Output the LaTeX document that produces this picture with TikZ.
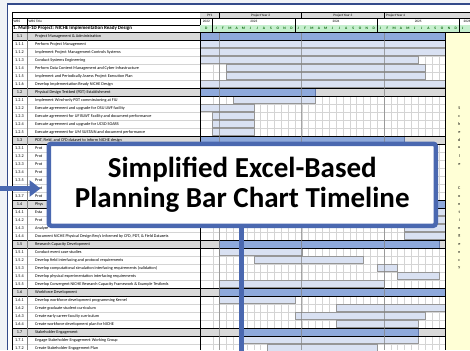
\documentclass[tikz,border=0pt]{standalone}
\usepackage{fontspec}
\setmainfont{Carlito}
\usetikzlibrary{arrows.meta}

\definecolor{pagegrey}{RGB}{240,242,246}
\definecolor{frameblue}{RGB}{52,74,138}
\definecolor{boxblue}{RGB}{74,104,176}
\definecolor{sumgrey}{RGB}{217,217,217}
\definecolor{sumblue}{RGB}{142,169,219}
\definecolor{sumedge}{RGB}{96,118,168}
\definecolor{taskblue}{RGB}{217,225,242}
\definecolor{taskedge}{RGB}{150,150,150}
\definecolor{gridgrey}{RGB}{212,212,212}
\definecolor{yeargrey}{RGB}{130,130,130}
\definecolor{goodfill}{RGB}{198,239,206}
\definecolor{goodtext}{RGB}{0,97,0}
\definecolor{contyellow}{RGB}{255,255,214}

\begin{document}
\begin{tikzpicture}[x=1pt,y=-1pt,
  declare function={mx(\k)=ifthenelse(\k<0,200,212.7+6.85*\k);},
  tiny/.style={font=\fontsize{4.2}{4.6}\selectfont, inner sep=0pt},
  titletxt/.style={tiny, anchor=west},
  hdrtxt/.style={font=\fontsize{3.4}{4}\selectfont, inner sep=0pt},
  monthtxt/.style={font=\bfseries\fontsize{3.6}{4}\selectfont, text=goodtext, inner sep=0pt},
  conttxt/.style={font=\fontsize{4.2}{4.6}\selectfont, inner sep=0pt},
  gridline/.style={draw=gridgrey, line width=0.35pt},
  taskbar/.style={fill=taskblue, draw=taskedge, line width=0.45pt},
  sumbar/.style={fill=sumblue, draw=sumedge, line width=0.45pt},
  sumline/.style={draw=black, line width=0.6pt},
  rule/.style={draw=black, line width=0.55pt},
  callout/.style={draw=boxblue, line width=4.5pt},
]
\useasboundingbox (0,0) rectangle (470,350);
\clip (0,0) rectangle (470,350);

% page and sheet background
\fill[pagegrey] (0,0) rectangle (470,350);
\fill[white] (7.5,4.2) rectangle (470,350);

% schedule contingency column
\fill[contyellow] ({mx(34)},32) rectangle (470,350);

% cell grid
\foreach \k in {0,...,33} \draw[gridline] ({mx(\k)},32) -- ({mx(\k)},350);
\foreach \i in {1,...,39} \draw[gridline] (12,{32+8*\i}) -- ({mx(34)},{32+8*\i});

% summary rows
\foreach \i in {0,7,13,21,26,32,37}
  \fill[sumgrey] (12,{32+8*\i}) rectangle ({mx(34)},{40+8*\i});

% task bars: row / first month / end month
\foreach \i/\a/\b in {1/-1/34, 2/-1/34, 3/-1/30, 4/2/31, 5/2/31, 6/-1/34,
    8/3/15, 9/-1/6, 10/0/6, 11/0/6, 12/0/6,
    22/28/34, 23/28/34, 24/28/34, 25/28/34,
    27/1/13, 28/6/22, 29/24/27, 30/27/33, 31/1/25,
    33/1/12, 34/18/34, 35/12/31, 36/18/30,
    38/4/30, 39/8/24}
  \draw[taskbar] ({mx(\a)},{32.7+8*\i}) rectangle ({mx(\b)},{39.3+8*\i});

% summary bars
\foreach \i/\a/\b in {0/-1/34, 7/-1/15, 13/-1/28, 21/-1/34, 26/1/33, 32/1/34, 37/4/30}
  \draw[sumbar] ({mx(\a)},{32+8*\i}) rectangle ({mx(\b)},{40+8*\i});

% summary row borders
\foreach \i in {0,7,13,21,26,32,37} {
  \draw[sumline] (12,{32+8*\i}) -- ({mx(34)},{32+8*\i});
  \draw[sumline] (12,{40+8*\i}) -- ({mx(34)},{40+8*\i});
}

% project year boundaries through the body
\foreach \k in {1,13,25}
  \draw[draw=yeargrey, line width=0.6pt, opacity=0.7] ({mx(\k)},32) -- ({mx(\k)},350);

% column rules
\draw[rule] (12,12) -- (12,350);
\draw[draw=yeargrey, line width=0.55pt] (27,18.5) -- (27,350);
\draw[rule] (200,12) -- (200,350);
\draw[rule] ({mx(34)},32) -- ({mx(34)},350);

% ---------- header ----------
% project years
\fill[sumgrey] (200,12) rectangle (470,18.5);
\draw[rule] (12,12) -- (470,12);
\draw[rule] (12,18.5) -- (470,18.5);
\draw[rule] (12,25) -- (470,25);
\draw[rule] (12,32) -- (470,32);
\foreach \k in {1,13,25} \draw[rule] ({mx(\k)},12) -- ({mx(\k)},18.5);
\node[hdrtxt] (py1) at ({(200+mx(1))/2},15.3) {PY1};
\node[hdrtxt] (py2) at ({(mx(1)+mx(13))/2},15.3) {Project Year 2};
\node[hdrtxt] (py3) at ({(mx(13)+mx(25))/2},15.3) {Project Year 3};
\node[hdrtxt, anchor=west] (py4) at ({mx(25)+2},15.3) {Project Year 4};

% calendar years
\foreach \k in {0,12,24,36} \draw[rule] ({mx(\k)},18.5) -- ({mx(\k)},32);
\node[hdrtxt] (y22) at ({(200+mx(0))/2},21.8) {2022};
\node[hdrtxt] (y23) at ({(mx(0)+mx(12))/2},21.8) {2023};
\node[hdrtxt] (y24) at ({(mx(12)+mx(24))/2},21.8) {2024};
\node[hdrtxt] (y25) at ({(mx(24)+mx(36))/2},21.8) {2025};
\node[hdrtxt] (y26) at ({(mx(36)+475)/2},21.8) {2026};

% months
\fill[goodfill] (200.3,25.3) rectangle (470,31.7);
\foreach \k in {0,12,24,36} \draw[rule] ({mx(\k)},25) -- ({mx(\k)},32);
\node[monthtxt] (m0d) at ({(200+mx(0))/2},28.6) {D};
\foreach \m [count=\k from 0] in {J,F,M,A,M,J,J,A,S,O,N,D,J,F,M,A,M,J,J,A,S,O,N,D,J,F,M,A,M,J,J,A,S,O,N,D,J}
  \node[monthtxt] (m\k) at ({mx(\k)+3.425},28.6) {\m};

% left header
\draw[rule] (27,18.5) -- (27,25);
\node[hdrtxt, anchor=west] (hwbs) at (13.5,21.8) {WBS};
\node[hdrtxt, anchor=west] (htitle) at (28.5,21.8) {WBS Title};
\node[font=\bfseries\fontsize{5}{5.5}\selectfont, inner sep=0pt, anchor=west] (proj) at (12.8,28.6)
  {1. Multi-1D Project: NICHE Implementation Ready Design};

% ---------- rows ----------
\foreach \i/\w/\t in {
   0/1.1/{Project Management \& Administration},
   1/1.1.1/{Perform Project Management},
   2/1.1.2/{Implement Project Management Controls Systems},
   3/1.1.3/{Conduct Systems Engineering},
   4/1.1.4/{Perform Data Content Management and Cyber Infrastructure},
   5/1.1.5/{Implement and Periodically Assess Project Execution Plan},
   6/1.1.6/{Develop Implementation Ready NICHE Design},
   7/1.2/{Physical Design Testbed (PDT) Establishment},
   8/1.2.1/{Implement Wind-only PDT commissioning at FIU},
   9/1.2.2/{Execute agreement and upgrade for OSU LWF facility},
  10/1.2.3/{Execute agreement for UF BLWT Facility and document performance},
  11/1.2.4/{Execute agreement and upgrade for UCSD SOARS},
  12/1.2.5/{Execute agreement for UM SUSTAIN and document performance},
  13/1.3/{PDT, Field, and CFD dataset to inform NICHE design},
  14/1.3.1/{Prot},
  15/1.3.2/{Prot},
  16/1.3.3/{Prot},
  17/1.3.4/{Prot},
  18/1.3.5/{Prot},
  19/1.3.6/{Prot},
  20/1.3.7/{Prot},
  21/1.4/{Phys},
  22/1.4.1/{Esta},
  23/1.4.2/{Prot},
  24/1.4.3/{Analyze},
  25/1.4.4/{Document NICHE Physical Design Req's Informed by CFD, PDT, \& Field Datasets},
  26/1.5/{Research Capacity Development},
  27/1.5.1/{Conduct event case studies},
  28/1.5.2/{Develop field interfacing and protocol requirements},
  29/1.5.3/{Develop computational simulation interfacing requirements (validation)},
  30/1.5.4/{Develop physical experimentation interfacing requirements},
  31/1.5.5/{Develop Convergent NICHE Research Capacity Framework \& Example Testbeds},
  32/1.6/{Workforce Development},
  33/1.6.1/{Develop workforce development programming Kernel},
  34/1.6.2/{Create graduate student curriculum},
  35/1.6.3/{Create early career faculty curriculum},
  36/1.6.4/{Create workforce development plan for NICHE},
  37/1.7/{Stakeholder Engagement},
  38/1.7.1/{Engage Stakeholder Engagement Working Group},
  39/1.7.2/{Create Stakeholder Engagement Plan}} {
  \node[tiny] (w\i) at (19.5,{36+8*\i}) {\w};
  \node[titletxt] (t\i) at (35,{36+8*\i}) {\t};
}

% schedule contingency label, one letter per row
\foreach \c [count=\n from 9] in {S,c,h,e,d,u,l,e}
  \node[conttxt] (ca\n) at (459.3,{36+8*\n}) {\c};
\foreach \c [count=\n from 19] in {C,o,n,t,i,n,g,e,n,c,y}
  \node[conttxt] (cb\n) at (459.3,{36+8*\n}) {\c};

% sheet frame
\draw[frameblue, line width=1.8pt] (7.5,350) -- (7.5,4.2) -- (470,4.2);

% ---------- callout ----------
\node[callout, fill=white, rounded corners=2.5pt, minimum width=387pt, minimum height=82pt,
      inner sep=0pt, align=center, font=\bfseries\fontsize{29}{30}\selectfont]
  (banner) at (242.25,184.75) {Simplified Excel-Based\\Planning Bar Chart Timeline};

\coordinate (arrowtail) at (-2,188.5);
\draw[boxblue, line width=4.5pt, -{Triangle[length=11pt,width=16pt]}, shorten >=6pt]
  (arrowtail) -- (arrowtail -| banner.west);

\coordinate (dropend) at (241.5,352);
\draw[boxblue, line width=4.5pt] (dropend |- banner.south) -- (dropend);
\end{tikzpicture}
\end{document}
